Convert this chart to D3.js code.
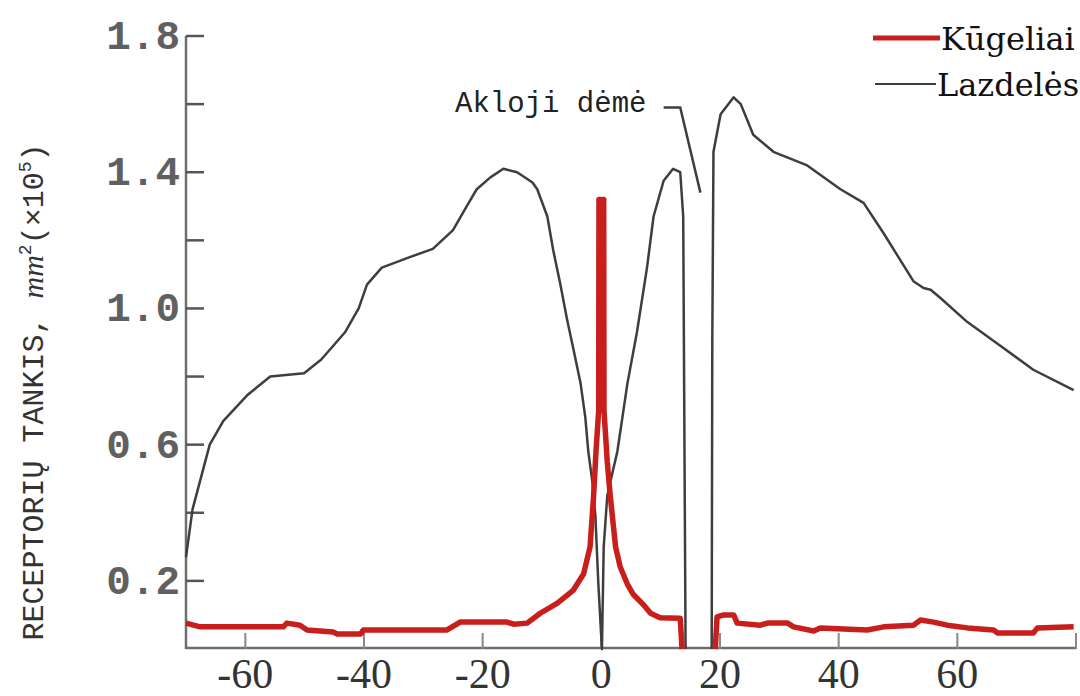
<!DOCTYPE html>
<html lang="lt">
<head>
<meta charset="UTF-8">
<title>Receptorių tankis</title>
<script src="https://d3js.org/d3.v7.min.js"></script>
<style>
    body { margin: 0; background: #fff; }
    svg { display: block; background: #fff; }
</style>
</head>
<body>
<svg id="chart" width="1080" height="696"></svg>
<script>
    // Lazdelės (rods), left of blind spot: [degrees, density x10^5]
    const rodsLeft = [
        [-70, 0.27], [-68.9, 0.41], [-66, 0.60], [-63.7, 0.67], [-59.7, 0.745], [-55.8, 0.80],
        [-50.1, 0.81], [-47.2, 0.85], [-43.2, 0.93], [-40.9, 1.0], [-39.5, 1.07], [-37, 1.12],
        [-32.4, 1.15], [-28.4, 1.175], [-25, 1.23], [-22.7, 1.30], [-21, 1.35], [-18.7, 1.385],
        [-16.5, 1.41], [-14.2, 1.40], [-11.6, 1.37], [-10.8, 1.35], [-9.1, 1.27], [-8.1, 1.17],
        [-6.9, 1.07], [-5.8, 0.97], [-4.7, 0.88], [-3.5, 0.78], [-2.7, 0.68], [-2.2, 0.58],
        [-1.5, 0.49], [-1.0, 0.39], [-0.5, 0.19], [0.1, 0.0], [0.4, 0.3], [1.0, 0.45], [1.9, 0.52],
        [2.7, 0.58], [4.4, 0.78], [6.0, 0.93], [7.7, 1.12], [8.8, 1.27], [10.5, 1.375],
        [12.1, 1.41], [13.3, 1.40], [13.8, 1.27], [14.2, 0.0]
    ];
    // Lazdelės, right of blind spot
    const rodsRight = [
        [18.6, 0.0], [18.7, 0.9], [18.9, 1.46], [20.1, 1.57], [22.3, 1.62], [23.5, 1.60],
        [25.6, 1.51], [29, 1.46], [34.7, 1.42], [40.3, 1.35], [44.2, 1.31], [47.6, 1.22],
        [52.6, 1.08], [54.3, 1.06], [55.5, 1.055], [57.2, 1.03], [61.7, 0.96], [67.3, 0.89],
        [72.8, 0.82], [79.6, 0.76]
    ];
    // Kūgeliai (cones)
    const conesLeft = [
        [-70, 0.076], [-67.6, 0.065], [-53.6, 0.065], [-53, 0.076], [-50.8, 0.07], [-49.6, 0.056],
        [-45.2, 0.05], [-44.5, 0.044], [-40.6, 0.044], [-40.1, 0.056], [-26, 0.056], [-23.8, 0.079],
        [-15.9, 0.079], [-14.8, 0.073], [-12.5, 0.076], [-10.3, 0.105], [-7.4, 0.135], [-4.7, 0.173],
        [-3.0, 0.22], [-1.9, 0.30], [-1.3, 0.45], [-0.9, 0.58], [-0.45, 0.7], [-0.4, 1.32],
        [0.4, 1.32], [0.45, 0.7], [1.0, 0.55], [1.5, 0.45], [2.4, 0.30], [3.2, 0.24], [4.4, 0.19],
        [5.4, 0.16], [7.1, 0.13], [8.3, 0.105], [9.9, 0.092], [13.3, 0.09], [13.6, 0.0]
    ];
    const conesRight = [
        [19.2, 0.0], [19.5, 0.094], [20.6, 0.10], [22.3, 0.10], [22.9, 0.076], [26.8, 0.07],
        [28, 0.076], [31.4, 0.076], [32.4, 0.065], [35.8, 0.053], [36.9, 0.062], [44.8, 0.056],
        [47.6, 0.065], [52.6, 0.07], [53.8, 0.085], [56, 0.079], [58.3, 0.07], [61.7, 0.062],
        [66.1, 0.056], [66.8, 0.047], [72.8, 0.047], [73.5, 0.062], [79.6, 0.065]
    ];
    // leader line of the "Akloji dėmė" label
    const blindLeader = [[10.5, 1.59], [13.3, 1.59], [16.7, 1.34]];

    const xTicks = [-60, -40, -20, 0, 20, 40, 60, 80];
    const yTicks = [0.2, 0.4, 0.6, 0.8, 1.0, 1.2, 1.4, 1.6, 1.8];
    const yLabels = [0.2, 0.6, 1.0, 1.4, 1.8];

    const svg = d3.select('#chart');
    const x = d3.scaleLinear().domain([-70, 80]).range([186, 1076]);
    const y = d3.scaleLinear().domain([0, 1.8]).range([649, 36]);

    const line = d3.line().x(d => x(d[0])).y(d => y(d[1]));

    // axes
    const axisColor = '#6e6e6e';
    svg.append('line')
        .attr('x1', x(-70)).attr('x2', x(-70))
        .attr('y1', y(1.8)).attr('y2', y(0))
        .attr('stroke', axisColor).attr('stroke-width', 2.5);
    svg.append('line')
        .attr('x1', x(-70)).attr('x2', x(80))
        .attr('y1', y(0) - 1).attr('y2', y(0) - 1)
        .attr('stroke', axisColor).attr('stroke-width', 2.5);

    svg.selectAll('.ytick')
        .data(yTicks)
        .enter().append('line')
        .attr('class', 'ytick')
        .attr('x1', x(-70)).attr('x2', x(-70) + 18)
        .attr('y1', d => y(d)).attr('y2', d => y(d))
        .attr('stroke', '#555').attr('stroke-width', 2.5);

    svg.selectAll('.xtick')
        .data(xTicks)
        .enter().append('line')
        .attr('class', 'xtick')
        .attr('x1', d => x(d)).attr('x2', d => x(d))
        .attr('y1', y(0)).attr('y2', y(0) - 16)
        .attr('stroke', '#888').attr('stroke-width', 2);

    svg.selectAll('.ylabel')
        .data(yLabels)
        .enter().append('text')
        .attr('class', 'ylabel')
        .attr('x', x(-70) - 6)
        .attr('y', d => y(d) + 13)
        .attr('text-anchor', 'end')
        .attr('font-family', 'Liberation Mono, monospace')
        .attr('font-weight', 'bold')
        .attr('font-size', 41)
        .attr('fill', '#606060')
        .text(d => d.toFixed(1));

    svg.selectAll('.xlabel')
        .data(xTicks.filter(d => d <= 60))
        .enter().append('text')
        .attr('class', 'xlabel')
        .attr('x', d => x(d))
        .attr('y', 688)
        .attr('text-anchor', 'middle')
        .attr('font-family', 'Liberation Serif, serif')
        .attr('font-size', 42)
        .attr('fill', '#333')
        .text(d => d < 0 ? '-' + Math.abs(d) : d);

    // y axis title
    const title = svg.append('text')
        .attr('transform', 'translate(43,392) rotate(-90)')
        .attr('text-anchor', 'middle')
        .attr('font-family', 'Liberation Mono, monospace')
        .attr('font-size', 30)
        .attr('fill', '#333');
    title.append('tspan').text('RECEPTORIŲ TANKIS, ');
    title.append('tspan').attr('font-style', 'italic').attr('font-family', 'Liberation Serif, serif').text('mm');
    title.append('tspan').attr('font-size', 18).attr('dy', -12).text('2');
    title.append('tspan').attr('dy', 12).text('(×10');
    title.append('tspan').attr('font-size', 18).attr('dy', -12).text('5');
    title.append('tspan').attr('dy', 12).text(')');

    // curves
    const rodColor = '#3e3e3e';
    const coneColor = '#c81f1c';
    [rodsLeft, rodsRight].forEach(seg => {
        svg.append('path').datum(seg)
            .attr('fill', 'none').attr('stroke', rodColor)
            .attr('stroke-width', 2.5).attr('stroke-linejoin', 'round')
            .attr('d', line);
    });
    svg.append('path').datum(blindLeader)
        .attr('fill', 'none').attr('stroke', rodColor)
        .attr('stroke-width', 2.5)
        .attr('d', line);
    [conesLeft, conesRight].forEach(seg => {
        svg.append('path').datum(seg)
            .attr('fill', 'none').attr('stroke', coneColor)
            .attr('stroke-width', 5.5).attr('stroke-linejoin', 'round')
            .attr('d', line);
    });

    // annotation
    svg.append('text')
        .attr('x', 455).attr('y', 112)
        .attr('font-family', 'Liberation Mono, monospace')
        .attr('font-size', 29)
        .attr('fill', '#222')
        .text('Akloji dėmė');

    // legend
    const legend = [
        { name: 'Kūgeliai', color: coneColor, width: 5, y: 38, x1: 873, x2: 940 },
        { name: 'Lazdelės', color: rodColor, width: 2, y: 84, x1: 875, x2: 936 }
    ];
    legend.forEach(l => {
        svg.append('line')
            .attr('x1', l.x1).attr('x2', l.x2).attr('y1', l.y).attr('y2', l.y)
            .attr('stroke', l.color).attr('stroke-width', l.width);
        svg.append('text')
            .attr('x', l.x2 + 1).attr('y', l.y + 12)
            .attr('font-family', 'DejaVu Serif, serif')
            .attr('font-size', 32)
            .attr('fill', '#111')
            .text(l.name);
    });
</script>
</body>
</html>
